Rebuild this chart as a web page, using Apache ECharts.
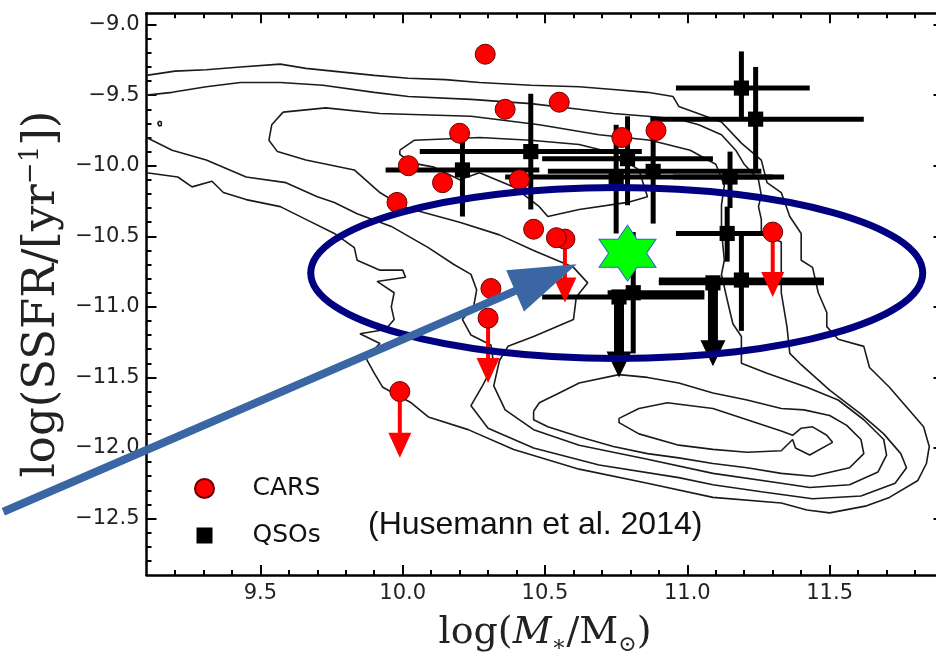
<!DOCTYPE html>
<html>
<head>
<meta charset="utf-8">
<script src="https://cdn.jsdelivr.net/npm/echarts@6/dist/echarts.min.js"></script>
<style>
  html, body { margin: 0; padding: 0; background: #fff; }
  #chart { width: 936px; height: 655px; }
</style>
</head>
<body>
<div id="chart"></div>
<script>
// ---------------- axes ----------------
const massRange = [9.1, 11.9];
const ssfrRange = [-12.9, -8.92];
const massMajorTicks = [9.5, 10.0, 10.5, 11.0, 11.5];
const massMinorTicks = [9.2, 9.3, 9.4, 9.6, 9.7, 9.8, 9.9, 10.1, 10.2, 10.3, 10.4,
  10.6, 10.7, 10.8, 10.9, 11.1, 11.2, 11.3, 11.4, 11.6, 11.7, 11.8];
const ssfrMajorTicks = [-12.5, -12.0, -11.5, -11.0, -10.5, -10.0, -9.5, -9.0];
const ssfrMinorTicks = [-12.8, -12.7, -12.6, -12.4, -12.3, -12.2, -12.1, -11.9, -11.8,
  -11.7, -11.6, -11.4, -11.3, -11.2, -11.1, -10.9, -10.8, -10.7, -10.6, -10.4, -10.3,
  -10.2, -10.1, -9.9, -9.8, -9.7, -9.6, -9.4, -9.3, -9.2, -9.1];

// ---------------- CARS ----------------
const carsMass = [10.29, 10.36, 10.55, 10.20, 10.02, 10.14, 9.98, 10.41, 10.77, 10.89,
  10.46, 10.57, 10.54, 10.31, 10.30, 9.99, 11.30];
const carsSSFR = [-9.21, -9.60, -9.55, -9.77, -10.00, -10.12, -10.26, -10.10, -9.80, -9.75,
  -10.45, -10.52, -10.51, -10.87, -11.08, -11.60, -10.47];
// end of the upper-limit arrow (null = detection)
const carsLimitTo = [null, null, null, null, null, null, null, null, null, null,
  null, -10.97, null, null, -11.54, -12.07, -10.93];

// ---------------- QSOs (Husemann et al. 2014) ----------------
const qsoMass    = [10.21, 10.45, 11.19, 11.24, 10.79, 10.75, 10.88, 11.15, 11.14, 10.81, 11.19];
const qsoSSFR    = [-10.03, -9.90, -9.45, -9.67, -9.95, -10.08, -10.04, -10.08, -10.48, -10.90, -10.81];
const qsoMassLo  = [9.94, 10.06, 10.96, 10.87, 10.49, 10.36, 10.51, 10.95, 10.96, 10.72, 10.90];
const qsoMassHi  = [10.48, 10.84, 11.43, 11.62, 11.09, 11.34, 11.26, 11.30, 11.27, 11.06, 11.48];
const qsoSSFRLo  = [-10.36, -10.31, -9.66, -10.03, -10.28, -10.48, -10.41, -10.30, -10.68, -11.33, -11.17];
const qsoSSFRHi  = [-9.83, -9.49, -9.19, -9.30, -9.65, -9.71, -9.72, -9.90, -10.29, -10.47, -10.49];

// QSO upper limits
const qsoLimMass   = [10.76, 11.09];
const qsoLimSSFR   = [-10.93, -10.83];
const qsoLimMassLo = [10.49, 10.90];
const qsoLimMassHi = [11.06, 11.48];
const qsoLimTo     = [-11.50, -11.42];

// highlighted source
const starMass = [10.79];
const starSSFR = [-10.62];

// ---------------- SDSS density contours ----------------
const contourOuter = [[9.10,-9.36],[9.20,-9.33],[9.31,-9.32],[9.43,-9.30],[9.57,-9.28],[9.66,-9.31],
  [9.90,-9.36],[10.02,-9.38],[10.15,-9.39],[10.27,-9.41],[10.45,-9.43],[10.62,-9.44],[10.74,-9.46],
  [10.86,-9.48],[10.95,-9.51],[10.97,-9.58],[11.12,-9.69],[11.19,-9.84],[11.26,-9.96],[11.28,-10.12],
  [11.33,-10.19],[11.36,-10.36],[11.40,-10.48],[11.40,-10.67],[11.44,-10.72],[11.46,-10.90],
  [11.49,-11.04],[11.49,-11.14],[11.53,-11.23],[11.62,-11.28],[11.64,-11.43],[11.71,-11.57],
  [11.77,-11.71],[11.83,-11.85],[11.85,-11.99],[11.84,-12.11],[11.81,-12.23],[11.71,-12.35],
  [11.63,-12.41],[11.50,-12.46],[11.42,-12.44],[11.33,-12.39],[11.09,-12.35],[10.86,-12.25],
  [10.62,-12.15],[10.39,-12.01],[10.23,-11.87],[10.09,-11.78],[10.03,-11.68],[9.93,-11.57],
  [9.90,-11.47],[9.87,-11.36],[9.92,-11.26],[9.85,-11.19],[9.94,-11.16],[9.97,-11.09],[9.96,-11.00],
  [9.97,-10.90],[9.91,-10.82],[10.01,-10.79],[10.00,-10.74],[9.92,-10.74],[9.84,-10.67],[9.83,-10.58],
  [9.76,-10.48],[9.66,-10.38],[9.57,-10.29],[9.45,-10.24],[9.37,-10.19],[9.33,-10.11],[9.26,-10.15],
  [9.21,-10.08],[9.10,-10.05]];

const contourSecond = [[9.10,-9.50],[9.19,-9.48],[9.31,-9.44],[9.43,-9.41],[9.57,-9.41],[9.72,-9.43],
  [9.90,-9.48],[10.02,-9.51],[10.24,-9.53],[10.45,-9.56],[10.62,-9.60],[10.74,-9.63],[10.86,-9.65],
  [10.97,-9.67],[11.04,-9.71],[11.12,-9.78],[11.17,-9.89],[11.20,-9.99],[11.25,-10.10],[11.26,-10.21],
  [11.25,-10.29],[11.26,-10.38],[11.26,-10.48],[11.33,-10.54],[11.33,-10.76],[11.33,-10.90],
  [11.35,-11.14],[11.36,-11.33],[11.40,-11.41],[11.50,-11.59],[11.61,-11.76],[11.69,-11.90],
  [11.75,-12.04],[11.77,-12.14],[11.73,-12.25],[11.61,-12.34],[11.44,-12.36],[11.26,-12.31],
  [11.09,-12.26],[10.97,-12.21],[10.69,-12.12],[10.46,-12.00],[10.30,-11.86],[10.24,-11.70],
  [10.28,-11.56],[10.32,-11.41],[10.31,-11.27],[10.24,-11.20],[10.21,-11.09],[10.25,-10.99],
  [10.26,-10.88],[10.24,-10.77],[10.18,-10.70],[10.09,-10.58],[9.96,-10.43],[9.84,-10.34],
  [9.76,-10.26],[9.70,-10.22],[9.59,-10.12],[9.45,-10.08],[9.31,-9.96],[9.19,-9.89],[9.10,-9.80]];

const contourThird = [[9.58,-9.62],[9.73,-9.59],[9.92,-9.63],[10.24,-9.65],[10.48,-9.71],[10.69,-9.78],
  [10.87,-9.82],[11.01,-9.89],[11.10,-9.99],[11.13,-10.14],[11.12,-10.28],[11.12,-10.46],[11.13,-10.67],
  [11.12,-10.77],[11.14,-10.95],[11.16,-11.12],[11.19,-11.21],[11.19,-11.40],[11.28,-11.47],
  [11.35,-11.52],[11.42,-11.57],[11.53,-11.66],[11.62,-11.80],[11.69,-11.94],[11.70,-12.05],
  [11.67,-12.17],[11.57,-12.26],[11.43,-12.28],[11.33,-12.25],[11.09,-12.18],[10.86,-12.08],
  [10.62,-11.98],[10.46,-11.87],[10.36,-11.73],[10.32,-11.56],[10.34,-11.38],[10.37,-11.28],
  [10.46,-11.21],[10.60,-11.09],[10.61,-10.93],[10.65,-10.83],[10.60,-10.72],[10.46,-10.60],
  [10.34,-10.49],[10.20,-10.40],[10.00,-10.29],[9.92,-10.19],[9.83,-10.03],[9.66,-9.96],[9.56,-9.90],
  [9.53,-9.82],[9.54,-9.71],[9.58,-9.62]];

const contourBlueCore = [[9.99,-9.89],[10.04,-9.82],[10.27,-9.80],[10.45,-9.82],[10.62,-9.85],
  [10.74,-9.91],[10.83,-10.03],[10.86,-10.22],[10.79,-10.26],[10.62,-10.31],[10.51,-10.36],
  [10.48,-10.29],[10.39,-10.15],[10.27,-10.05],[10.20,-10.10],[10.11,-10.01],[10.03,-9.98],
  [9.99,-9.92],[9.99,-9.89]];

const contourRedOuter = [[10.46,-11.74],[10.48,-11.68],[10.55,-11.61],[10.62,-11.54],[10.76,-11.48],
  [10.86,-11.50],[10.97,-11.54],[11.09,-11.61],[11.21,-11.66],[11.33,-11.72],[11.41,-11.73],
  [11.50,-11.77],[11.56,-11.84],[11.61,-11.94],[11.62,-12.04],[11.57,-12.14],[11.44,-12.20],
  [11.33,-12.18],[11.21,-12.14],[11.09,-12.11],[10.97,-12.07],[10.86,-12.04],[10.74,-11.99],
  [10.62,-11.92],[10.51,-11.85],[10.46,-11.80],[10.46,-11.74]];

const contourRedCore = [[10.76,-11.79],[10.83,-11.72],[10.93,-11.68],[11.09,-11.72],[11.21,-11.80],
  [11.33,-11.88],[11.37,-11.91],[11.40,-11.86],[11.44,-11.85],[11.49,-11.91],[11.51,-11.96],
  [11.43,-12.05],[11.38,-12.00],[11.37,-11.94],[11.33,-12.02],[11.21,-12.03],[11.09,-12.01],
  [10.97,-11.98],[10.83,-11.90],[10.76,-11.82],[10.76,-11.79]];

const contourIsland = [[9.143,-9.685],[9.152,-9.688],[9.152,-9.715],[9.144,-9.718],[9.140,-9.700],[9.143,-9.685]];

// ---------------- annotations (data units) ----------------
const ellipseCenter = [10.752, -10.76];
const ellipseRadii = [1.075, 0.606];
const pointerFrom = [8.597, -12.452];
const pointerTo = [10.611, -10.699];

// ---------------- build ----------------
const chart = echarts.init(document.getElementById('chart'), null, { renderer: 'canvas' });

const fmt = v => (v < 0 ? '\u2212' : '') + Math.abs(v).toFixed(1);
const tickText = v => '{v|' + fmt(v) + '}';
const tickRich = { v: { fontFamily: 'DejaVu Sans', fontSize: 21, color: '#222' } };
const serif = 'DejaVu Serif';

function axis(kind, position, ticks, len, opts) {
  const range = kind === 'x' ? massRange : ssfrRange;
  return Object.assign({
    type: 'value', min: range[0], max: range[1], position: position,
    axisLine: { show: false, onZero: false },
    axisTick: { show: true, inside: true, length: len, customValues: ticks,
      lineStyle: { color: '#000', width: 2 } },
    axisLabel: { show: false },
    splitLine: { show: false },
    nameMoveOverlap: false
  }, opts || {});
}
const spine = { show: true, onZero: false, lineStyle: { color: '#000', width: 2.5 } };

const xAxes = [
  axis('x', 'bottom', massMajorTicks, 10, {
    axisLine: spine,
    axisLabel: { show: true, customValues: massMajorTicks, formatter: tickText, margin: 8,
      fontFamily: 'DejaVu Sans', fontSize: 21, color: '#222', rich: tickRich },
    name: '{a|log(}{i|M}{s|\u2217}{a|/M}{s|\u2299}{a|)}',
    nameLocation: 'middle', nameGap: 35,
    nameTextStyle: {
      rich: {
        a: { fontFamily: serif, fontSize: 38, color: '#222', lineHeight: 46 },
        i: { fontFamily: serif, fontSize: 38, fontStyle: 'italic', color: '#222', lineHeight: 46 },
        s: { fontFamily: serif, fontSize: 22, color: '#222', verticalAlign: 'bottom', lineHeight: 46 }
      }
    }
  }),
  axis('x', 'bottom', massMinorTicks, 5),
  axis('x', 'top', massMajorTicks, 10, { axisLine: spine }),
  axis('x', 'top', massMinorTicks, 5)
];
const yAxes = [
  axis('y', 'left', ssfrMajorTicks, 10, {
    axisLine: spine,
    axisLabel: { show: true, customValues: ssfrMajorTicks, formatter: tickText, margin: 7,
      fontFamily: 'DejaVu Sans', fontSize: 21, color: '#222', rich: tickRich },
    name: '{a|log(SSFR/[yr}{s|\u22121}{a|])}',
    nameLocation: 'middle', nameGap: 80, nameRotate: 90,
    nameTextStyle: {
      rich: {
        a: { fontFamily: serif, fontSize: 45, color: '#222', lineHeight: 48 },
        s: { fontFamily: serif, fontSize: 26, color: '#222', verticalAlign: 'top', lineHeight: 48 }
      }
    }
  }),
  axis('y', 'left', ssfrMinorTicks, 5),
  axis('y', 'right', ssfrMajorTicks, 10, { axisLine: spine }),
  axis('y', 'right', ssfrMinorTicks, 5)
];

const contourSeries = [contourOuter, contourSecond, contourThird, contourBlueCore,
  contourRedOuter, contourRedCore, contourIsland].map(pts => ({
  type: 'line', data: pts, showSymbol: false, symbol: 'none', silent: true, z: 1,
  lineStyle: { color: '#1b1b1b', width: 1.6 }, animation: false
}));

const qsoBars = qsoMass.map((m, i) => [m, qsoSSFR[i], qsoMassLo[i], qsoMassHi[i], qsoSSFRLo[i], qsoSSFRHi[i]]);
const qsoLimits = qsoLimMass.map((m, i) => [m, qsoLimSSFR[i], qsoLimMassLo[i], qsoLimMassHi[i], qsoLimTo[i]]);
const qsoPoints = qsoMass.map((m, i) => [m, qsoSSFR[i]])
  .concat(qsoLimMass.map((m, i) => [m, qsoLimSSFR[i]]));
const carsPoints = carsMass.map((m, i) => [m, carsSSFR[i]]);
const carsLimits = carsMass.map((m, i) => [m, carsSSFR[i], carsLimitTo[i]])
  .filter(d => d[2] !== null);

function seg(a, b, color, w) {
  return { type: 'line', shape: { x1: a[0], y1: a[1], x2: b[0], y2: b[1] },
    style: { stroke: color, lineWidth: w } };
}
function head(tip, w, h, color) {
  return { type: 'polygon', shape: { points: [[tip[0] - w / 2, tip[1] - h], [tip[0] + w / 2, tip[1] - h], tip] },
    style: { fill: color } };
}

const hexagram = 'path://M50,0L64.43,25L93.3,25L78.87,50L93.3,75L64.43,75L50,100L35.57,75L6.7,75L21.13,50L6.7,25L35.57,25Z';
// square marker with a little empty margin so the legend icon is smaller than the circle
const squareMark = 'path://M-1.5,-1.5M0,0H16V16H0ZM17.5,17.5';

chart.setOption({
  animation: false,
  backgroundColor: '#fff',
  grid: { left: 146.5, top: 13.3, width: 797, height: 561.7, containLabel: false, outerBoundsMode: 'none' },
  xAxis: xAxes,
  yAxis: yAxes,
  legend: {
    data: ['CARS', 'QSOs'], orient: 'vertical', left: 189, top: 471,
    itemWidth: 86, itemHeight: 19, itemGap: 22, selectedMode: false, symbolKeepAspect: true,
    textStyle: { fontFamily: 'DejaVu Sans', fontSize: 25, lineHeight: 24, color: '#111' }
  },
  series: contourSeries.concat([
    {
      type: 'custom', data: qsoBars, z: 2, silent: true,
      renderItem: (p, api) => {
        const x = api.value(0), y = api.value(1);
        return { type: 'group', children: [
          seg(api.coord([api.value(2), y]), api.coord([api.value(3), y]), '#000', 5),
          seg(api.coord([x, api.value(5)]), api.coord([x, api.value(4)]), '#000', 5)
        ] };
      }
    },
    {
      type: 'custom', data: qsoLimits, z: 2, silent: true,
      renderItem: (p, api) => {
        const x = api.value(0), y = api.value(1);
        const tip = api.coord([x, api.value(4)]);
        const top = api.coord([x, y]);
        return { type: 'group', children: [
          seg(api.coord([api.value(2), y]), api.coord([api.value(3), y]), '#000', 5),
          seg(top, [tip[0], tip[1] - 20], '#000', 10),
          head(tip, 25, 26, '#000')
        ] };
      }
    },
    {
      name: 'QSOs', type: 'scatter', data: qsoPoints, symbol: squareMark, symbolSize: 18, z: 3,
      symbolKeepAspect: true,
      itemStyle: { color: '#000', opacity: 1 }
    },
    {
      type: 'custom', data: carsLimits, z: 4, silent: true,
      renderItem: (p, api) => {
        const top = api.coord([api.value(0), api.value(1)]);
        const tip = api.coord([api.value(0), api.value(2)]);
        return { type: 'group', children: [
          seg(top, [tip[0], tip[1] - 20], '#ff0000', 4),
          head(tip, 23, 25, '#ff0000')
        ] };
      }
    },
    {
      name: 'CARS', type: 'scatter', data: carsPoints, symbol: 'circle', symbolSize: 20, z: 5,
      itemStyle: { color: '#ff0000', borderColor: '#6a0000', borderWidth: 1, opacity: 1 }
    },
    {
      type: 'scatter', data: starMass.map((m, i) => [m, starSSFR[i]]), symbol: hexagram,
      symbolSize: [57, 56], z: 6, silent: true,
      itemStyle: { color: '#00ff00', borderColor: '#2d5fd0', borderWidth: 1, opacity: 1 }
    }
  ])
});

// annotation layer: ellipse and pointer arrow placed through the axes
const toPx = v => chart.convertToPixel({ gridIndex: 0 }, v);
const c = toPx(ellipseCenter);
const rx = toPx([ellipseCenter[0] + ellipseRadii[0], ellipseCenter[1]])[0] - c[0];
const ry = c[1] - toPx([ellipseCenter[0], ellipseCenter[1] + ellipseRadii[1]])[1];
const a = toPx(pointerFrom), b = toPx(pointerTo);
const len = Math.hypot(b[0] - a[0], b[1] - a[1]);
const ux = (b[0] - a[0]) / len, uy = (b[1] - a[1]) / len;
const headLen = 67, headHalf = 22.5;
const base = [b[0] - ux * headLen, b[1] - uy * headLen];

chart.setOption({
  graphic: [
    { type: 'ellipse', z: 100, silent: true, shape: { cx: c[0], cy: c[1], rx: rx, ry: ry },
      style: { fill: null, stroke: '#000080', lineWidth: 7 } },
    { type: 'line', z: 101, silent: true,
      shape: { x1: a[0], y1: a[1], x2: base[0] + ux * 4, y2: base[1] + uy * 4 },
      style: { stroke: '#3a67a4', lineWidth: 8 } },
    { type: 'polygon', z: 101, silent: true,
      shape: { points: [b, [base[0] - uy * headHalf, base[1] + ux * headHalf], [base[0] + uy * headHalf, base[1] - ux * headHalf]] },
      style: { fill: '#3a67a4' } },
    { type: 'text', z: 50, left: 368, top: 509, silent: true,
      style: { text: '(Husemann et al. 2014)', fontFamily: 'Liberation Sans', fontSize: 32, fill: '#111' } }
  ]
});
</script>
</body>
</html>
